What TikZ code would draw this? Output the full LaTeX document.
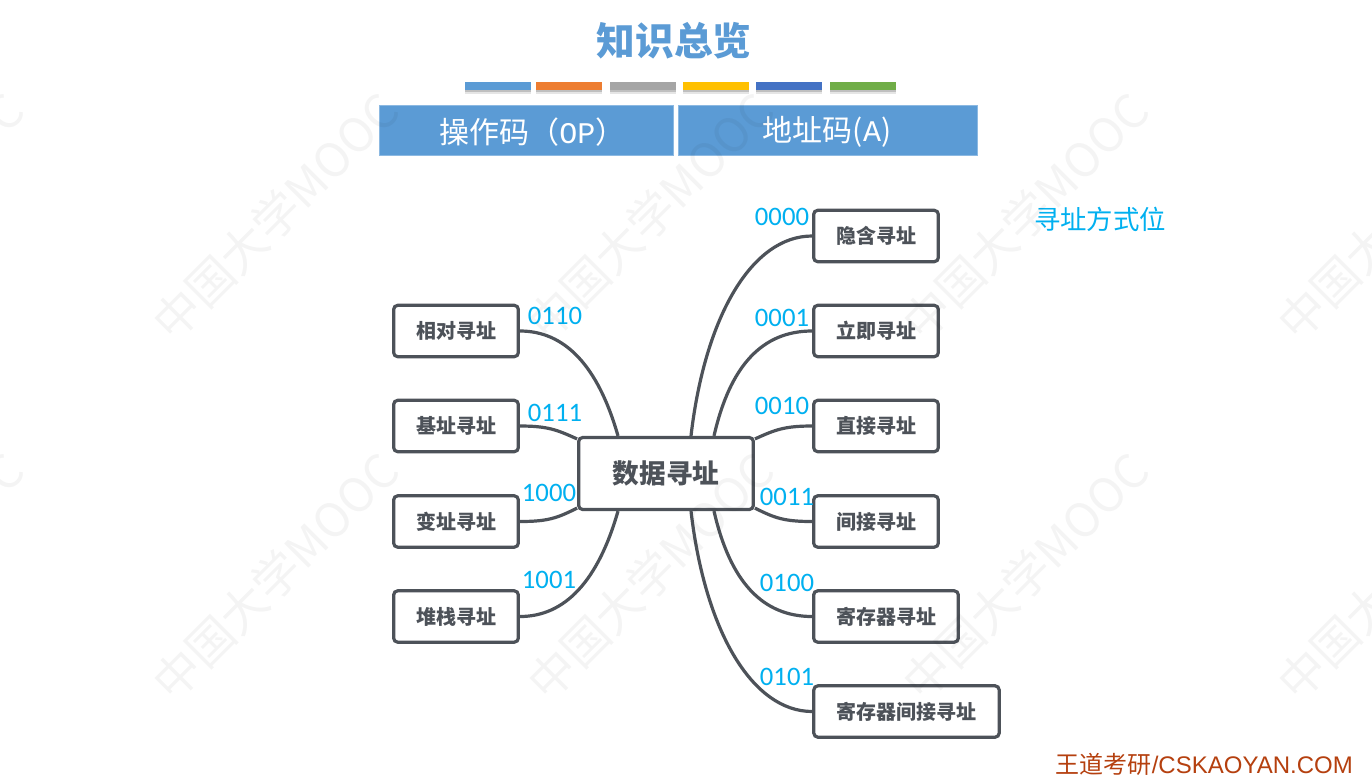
\documentclass[tikz,border=0pt]{standalone}
\usepackage{fontspec}
\setmainfont{Carlito}
\newfontfamily\cjk{Noto Sans CJK SC}
\newfontfamily\lib{Liberation Sans}
\newfontfamily\mono{Liberation Mono}
\usetikzlibrary{calc}
\definecolor{hblue}{HTML}{5B9BD5}
\definecolor{lbl}{HTML}{00B0F0}
\definecolor{ink}{HTML}{4D5259}
\definecolor{brand}{HTML}{B5400F}
\tikzset{
  px/.style={x=0.75pt,y=-0.75pt},
  topic/.style={draw=ink,line width=2.4pt,rounded corners=3pt,fill=white,text=ink,inner sep=0pt,font=\cjk\bfseries\fontsize{15}{15}\selectfont},
  mainbox/.style={topic,font=\cjk\bfseries\fontsize{20}{20}\selectfont},
  wire/.style={draw=ink,line width=2.4pt},
  code/.style={text=lbl,inner sep=0pt,font=\fontsize{20}{20}\selectfont},
  head/.style={fill=hblue,draw=hblue!70!white,line width=0.5pt,inner sep=0pt},
  headtext/.style={text=white,inner sep=0pt,font=\cjk\fontsize{22.5}{22.5}\selectfont},
  wmark/.style={rotate=45,text=black,opacity=0.045,inner sep=0pt,font=\cjk\fontsize{35}{35}\selectfont}
}
\newcommand{\cbar}[4]{%
  \fill[black!10] (#2,86)rectangle(#3,93.5);
  \fill[black!25] (#2,85)rectangle(#3,92);
  \fill[#1] (#2,82) rectangle (#3,90);
  \coordinate (#4) at (#2,82);}
\begin{document}
\begin{tikzpicture}[px]
\useasboundingbox (0,0) rectangle (1372,776);
\fill[white] (0,0) rectangle (1372,776);

\node[text=hblue,inner sep=0pt,font=\cjk\bfseries\fontsize{29}{29}\selectfont] (title) at (674,41) {知识总览};

\definecolor{c1}{HTML}{5B9BD5}\definecolor{c2}{HTML}{ED7D31}\definecolor{c3}{HTML}{A5A5A5}
\definecolor{c4}{HTML}{FFC000}\definecolor{c5}{HTML}{4472C4}\definecolor{c6}{HTML}{70AD47}
\cbar{c1}{465}{531}{b1}\cbar{c2}{536}{602}{b2}\cbar{c3}{610}{676}{b3}
\cbar{c4}{683}{749}{b4}\cbar{c5}{756}{822}{b5}\cbar{c6}{830}{896}{b6}

\node[head,minimum width=220.5pt,minimum height=37.5pt] (op) at (526.5,130.5) {};
\node[head,minimum width=224.5pt,minimum height=37.5pt] (addr) at (828,130.5) {};
\node[headtext] (optext) at (523,132) {\hspace{14pt}操作码（{\mono OP}）};
\node[headtext] (addrtext) at (827,132) {地址码({\mono A})};

% nodes
\node[mainbox,minimum width=131pt,minimum height=54pt] (c) at (666,473.5) {数据寻址};
\foreach \n/\y/\t in {l1/331/相对寻址,l2/426/基址寻址,l3/521.5/变址寻址,l4/616.5/堆栈寻址}
  \node[topic,minimum width=93.5pt,minimum height=38.5pt] (\n) at (456,\y) {\t};
\foreach \n/\y/\t in {r1/236/隐含寻址,r2/331/立即寻址,r3/426/直接寻址,r4/521.5/间接寻址}
  \node[topic,minimum width=93.5pt,minimum height=38.5pt] (\n) at (876,\y) {\t};
\node[topic,minimum width=108.5pt,minimum height=38.5pt] (r5) at (886,616.5) {寄存器寻址};
\node[topic,minimum width=139pt,minimum height=38.5pt] (r6) at (906.5,711.5) {寄存器间接寻址};

% connector roots on the central box
\coordinate (tl) at ($(c.north)+(-48,0)$);
\coordinate (tr1) at ($(c.north)+(25,0)$);
\coordinate (tr2) at ($(c.north)+(48,0)$);
\coordinate (bl) at ($(c.south)+(-48,0)$);
\coordinate (br1) at ($(c.south)+(25,0)$);
\coordinate (br2) at ($(c.south)+(48,0)$);
\coordinate (wl) at ($(c.north west)+(0,3)$);
\coordinate (sl) at ($(c.south west)+(0,-3)$);
\coordinate (er) at ($(c.north east)+(0,3)$);
\coordinate (fr) at ($(c.south east)+(0,-3)$);

\draw[wire] (tl) .. controls +(-20,-70) and +(45,0) .. (l1.east);
\draw[wire] (wl) .. controls +(-20,-9) and +(28,0) .. (l2.east);
\draw[wire] (sl) .. controls +(-20,10) and +(28,0) .. (l3.east);
\draw[wire] (bl) .. controls +(-20,70) and +(45,0) .. (l4.east);
\draw[wire] (tr1) .. controls +(14,-120) and +(-60,0) .. (r1.west);
\draw[wire] (tr2) .. controls +(16,-70) and +(-50,0) .. (r2.west);
\draw[wire] (er) .. controls +(20,-9) and +(-28,0) .. (r3.west);
\draw[wire] (fr) .. controls +(20,10) and +(-28,0) .. (r4.west);
\draw[wire] (br2) .. controls +(16,70) and +(-50,0) .. (r5.west);
\draw[wire] (br1) .. controls +(14,120) and +(-60,0) .. (r6.west);

\node[code] (k1) at (782,217) {0000};
\node[code] (k2) at (782,318) {0001};
\node[code] (k3) at (782,406) {0010};
\node[code] (k4) at (787,497) {0011};
\node[code] (k5) at (787,583) {0100};
\node[code] (k6) at (787,677) {0101};
\node[code] (k7) at (555,316) {0110};
\node[code] (k8) at (555,413) {0111};
\node[code] (k9) at (549,493) {1000};
\node[code] (k10) at (549,580) {1001};
\node[text=lbl,inner sep=0pt,font=\cjk\fontsize{19.8}{19.8}\selectfont] (way) at (1100,219) {寻址方式位};
\node[text=brand,inner sep=0pt,font=\lib\fontsize{18}{18}\selectfont,anchor=east] (brandn) at (1353,764) {{\cjk 王道考研}/CSKAOYAN.COM};

% watermark
\foreach \x in {-100,275,650,1025,1400}
  \foreach \y in {216,576}
    \node[wmark] at (\x,\y) {中国大学MOOC};
\end{tikzpicture}
\end{document}
